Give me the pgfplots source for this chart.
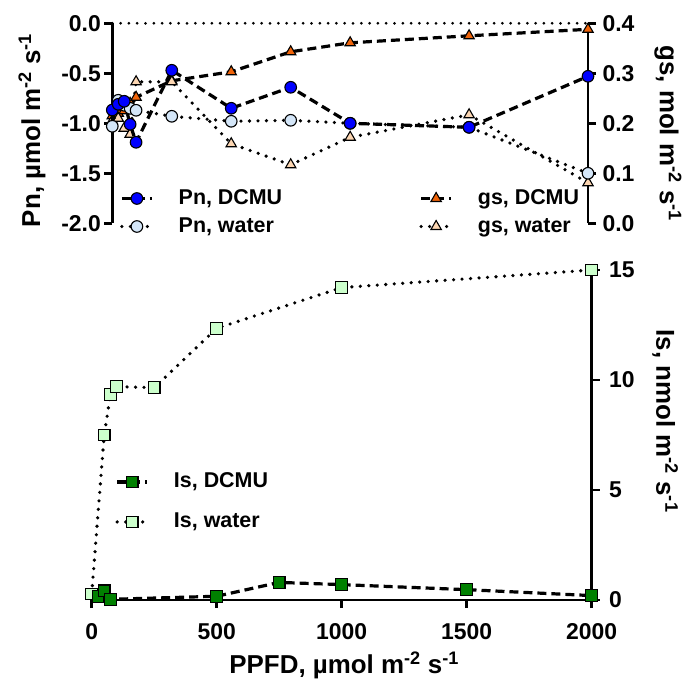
\documentclass[border=0pt]{standalone}
\usepackage{pgfplots}
\pgfplotsset{compat=1.18}
\usepackage{fontspec}
\setmainfont{Liberation Sans}
\definecolor{dblue}{RGB}{0,0,255}
\definecolor{lblue}{RGB}{212,230,248}
\definecolor{dorange}{RGB}{240,100,10}
\definecolor{lpeach}{RGB}{252,214,178}
\definecolor{dgreen}{RGB}{0,128,0}
\definecolor{lgreen}{RGB}{204,255,204}
\tikzset{cmark/.style={solid, draw=black, line width=1.1bp}}
\pgfplotsset{
  dcmu/.style={black, line width=3.2bp, dash pattern=on 9bp off 5bp},
  water/.style={black, line width=3.6bp, dash pattern=on 0bp off 8.5bp, line cap=round},
  common/.style={scale only axis, clip=false,
    axis line style={line width=2.8bp, black},
    major tick style={line width=2.8bp, black},
    tick align=outside, major tick length=8bp,
    tick label style={font=\fontsize{23}{27}\selectfont\bfseries},
    legend cell align=left,
    legend image code/.code={\draw[mark repeat=2,mark phase=2,##1] plot coordinates {(0bp,0bp) (15bp,0bp) (30bp,0bp)};},
    legend style={draw=none, fill=none, inner sep=0pt, anchor=west,
      font=\fontsize{21.5}{25}\selectfont\bfseries,
      nodes={inner sep=0pt, text height=16bp, text depth=4bp},
      /tikz/every odd column/.append style={column sep=25bp}},
  },
}
\pgfplotstableread{
x gd gw pd pw
0 0.215 0.205 -0.867 -1.03
25 0.220 0.210 -0.81 -0.77
50 0.225 0.190 -0.78 -0.82
75 0.240 0.178 -1.01 -0.85
100 0.252 0.283 -1.19 -0.87
250 0.285 0.283 -0.47 -0.93
500 0.303 0.159 -0.85 -0.98
750 0.343 0.117 -0.64 -0.97
1000 0.361 0.172 -1.00 -1.00
1500 0.375 0.217 -1.04 -1.04
2000 0.388 0.081 -0.53 -1.50
}\toptab
\pgfplotstableread{
x w
0 0.27
50 7.5
75 9.35
100 9.7
250 9.65
500 12.35
1000 14.2
2000 15.0
}\iswater
\pgfplotstableread{
x d
25 0.15
50 0.42
75 0.03
500 0.17
750 0.80
1000 0.70
1500 0.47
2000 0.20
}\isdcmu
\begin{document}
\begin{tikzpicture}
\useasboundingbox (0bp,0bp) rectangle (689bp,688bp);
% gs axis (right)
\begin{axis}[common, at={(112.3bp,464.7bp)}, anchor=south west, width=475.7bp, height=200bp,
  xmin=0, xmax=2000, ymin=0, ymax=0.4,
  axis x line=none, axis y line*=right,
  ytick={0,0.1,0.2,0.3,0.4}, yticklabels={0.0,0.1,0.2,0.3,0.4},
  yticklabel style={xshift=3bp},
  ylabel={gs, mol m\textsuperscript{-2} s\textsuperscript{-1}},
  every axis y label/.style={at={(axis description cs:1.168,0.45)}, anchor=center, rotate=-90, font=\fontsize{26}{30}\selectfont\bfseries},
  legend style={at={(0.645,0.054)}, row sep=8bp},
]
\addplot[dcmu, mark=triangle*, mark size=6bp, mark options={cmark, fill=dorange}] table[x=x,y=gd] {\toptab};
\addlegendentry{gs, DCMU}
\addplot[water, mark=triangle*, mark size=6bp, mark options={cmark, fill=lpeach}] table[x=x,y=gw] {\toptab};
\addlegendentry{gs, water}
\end{axis}
% Pn axis (left)
\begin{axis}[common, at={(112.3bp,464.7bp)}, anchor=south west, width=475.7bp, height=200bp,
  xmin=0, xmax=2000, ymin=-2, ymax=0,
  axis x line=none, axis y line*=left,
  ytick={-2,-1.5,-1,-0.5,0}, yticklabels={-2.0,-1.5,-1.0,-0.5,0.0},
  ylabel={Pn, µmol m\textsuperscript{-2} s\textsuperscript{-1}},
  every axis y label/.style={at={(axis description cs:-0.169,0.465)}, anchor=center, rotate=90, font=\fontsize{26}{30}\selectfont\bfseries},
  legend style={at={(0.016,0.054)}, row sep=8bp}, reverse legend,
]
\addplot[forget plot, black, line width=3bp, dash pattern=on 0bp off 8.3bp, line cap=round] coordinates {(0,0) (2000,0)};
\addplot[water, mark=*, mark size=5.8bp, mark options={cmark, fill=lblue}] table[x=x,y=pw] {\toptab};
\addlegendentry{Pn, water}
\addplot[dcmu, mark=*, mark size=5.8bp, mark options={cmark, fill=dblue}] table[x=x,y=pd] {\toptab};
\addlegendentry{Pn, DCMU}
\end{axis}
% Is axis (bottom)
\begin{axis}[common, at={(91.7bp,88bp)}, anchor=south west, width=500bp, height=330bp,
  xmin=0, xmax=2000, ymin=0, ymax=15,
  axis x line*=bottom, axis y line*=right,
  xtick={0,500,1000,1500,2000}, xticklabels={0,500,1000,1500,2000},
  ytick={0,5,10,15}, yticklabels={0,5,10,15},
  xticklabel style={yshift=-12bp},
  yticklabel style={xshift=6bp},
  xlabel={PPFD, µmol m\textsuperscript{-2} s\textsuperscript{-1}},
  every axis x label/.style={at={(axis description cs:0.505,-0.197)}, anchor=center, font=\fontsize{26}{30}\selectfont\bfseries},
  ylabel={Is, nmol m\textsuperscript{-2} s\textsuperscript{-1}},
  every axis y label/.style={at={(axis description cs:1.147,0.542)}, anchor=center, rotate=-90, font=\fontsize{26}{30}\selectfont\bfseries},
  legend style={at={(0.047,0.297)}, row sep=20bp}, reverse legend,
]
\addplot[water, mark=square*, mark size=5.8bp, mark options={cmark, fill=lgreen}] table[x=x,y=w] {\iswater};
\addlegendentry{Is, water}
\addplot[dcmu, mark=square*, mark size=5.8bp, mark options={cmark, fill=dgreen}] table[x=x,y=d] {\isdcmu};
\addlegendentry{Is, DCMU}
\end{axis}
\end{tikzpicture}
\end{document}
